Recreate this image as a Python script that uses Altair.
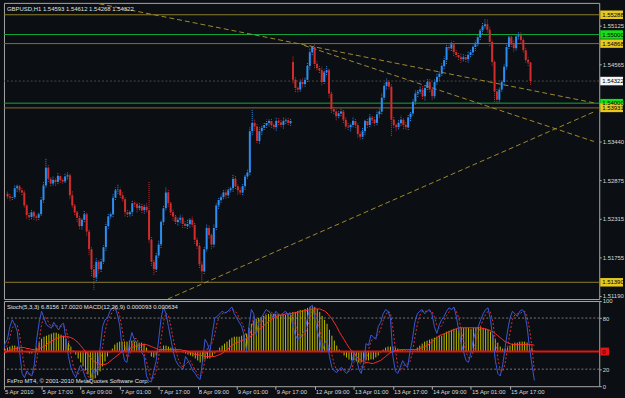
import altair as alt
import pandas as pd

# ---------------- data ----------------
title_main = "GBPUSD,H1  1.54593 1.54612 1.54268 1.54322"
title_sub = "Stoch(5,3,3) 6.8156 17.0020  MACD(12,26,9) 0.000093 0.000634"
copyright_txt = "FxPro MT4, \u00a9 2001-2010 MetaQuotes Software Corp."

first_open = 1.5268
gap_bar = 120          # first bar after the weekend
gap_open = 1.5460

closes = [
    1.5264, 1.5262, 1.5263, 1.5276, 1.5279, 1.5273, 1.5270, 1.5251, 1.5237, 1.5234,
    1.5241, 1.5235, 1.5233, 1.5238, 1.5259, 1.5280, 1.5306, 1.5290, 1.5283, 1.5288,
    1.5285, 1.5294, 1.5288, 1.5286, 1.5293, 1.5295, 1.5266, 1.5251, 1.5241, 1.5233,
    1.5221, 1.5230, 1.5238, 1.5213, 1.5187, 1.5158, 1.5146, 1.5169, 1.5158, 1.5169,
    1.5190, 1.5221, 1.5235, 1.5238, 1.5262, 1.5273, 1.5274, 1.5266, 1.5260, 1.5241,
    1.5238, 1.5241, 1.5254, 1.5253, 1.5247, 1.5250, 1.5244, 1.5249, 1.5244, 1.5201,
    1.5169, 1.5158, 1.5178, 1.5194, 1.5227, 1.5247, 1.5270, 1.5254, 1.5241, 1.5235,
    1.5227, 1.5230, 1.5233, 1.5224, 1.5221, 1.5224, 1.5230, 1.5223, 1.5201, 1.5192,
    1.5165, 1.5155, 1.5187, 1.5218, 1.5208, 1.5194, 1.5218, 1.5251, 1.5259, 1.5263,
    1.5270, 1.5266, 1.5273, 1.5276, 1.5290, 1.5279, 1.5273, 1.5270, 1.5279, 1.5293,
    1.5299, 1.5359, 1.5371, 1.5366, 1.5345, 1.5359, 1.5364, 1.5368, 1.5371, 1.5374,
    1.5368, 1.5365, 1.5374, 1.5372, 1.5368, 1.5374, 1.5375, 1.5371, 1.5374, 1.5434,
    1.5422, 1.5420, 1.5431, 1.5428, 1.5434, 1.5454, 1.5474, 1.5482, 1.5457, 1.5451,
    1.5448, 1.5431, 1.5445, 1.5448, 1.5414, 1.5391, 1.5388, 1.5381, 1.5385, 1.5388,
    1.5376, 1.5366, 1.5365, 1.5368, 1.5374, 1.5368, 1.5355, 1.5351, 1.5359, 1.5374,
    1.5368, 1.5379, 1.5376, 1.5371, 1.5384, 1.5388, 1.5408, 1.5425, 1.5431, 1.5424,
    1.5376, 1.5368, 1.5365, 1.5371, 1.5376, 1.5368, 1.5365, 1.5379, 1.5385, 1.5402,
    1.5414, 1.5417, 1.5420, 1.5410, 1.5422, 1.5431, 1.5420, 1.5410, 1.5431, 1.5438,
    1.5443, 1.5454, 1.5463, 1.5482, 1.5480, 1.5486, 1.5474, 1.5470, 1.5467, 1.5464,
    1.5467, 1.5464, 1.5470, 1.5474, 1.5482, 1.5486, 1.5496, 1.5506, 1.5512, 1.5515,
    1.5507, 1.5489, 1.5460, 1.5417, 1.5405, 1.5420, 1.5431, 1.5453, 1.5482, 1.5496,
    1.5486, 1.5480, 1.5497, 1.5499, 1.5492, 1.5477, 1.5463, 1.54593, 1.54322,
]

upper_wick_pips = [
    3, 4, 2, 5, 3, 2, 4, 3, 2, 3,
    4, 2, 3, 3, 4, 5, 13, 4, 3, 5,
    3, 4, 2, 3, 5, 4, 3, 6, 3, 2,
    4, 3, 5, 3, 2, 4, 6, 5, 3, 4,
    3, 5, 4, 3, 6, 4, 8, 3, 5, 3,
    4, 3, 5, 4, 3, 5, 4, 3, 6, 41,
    4, 3, 5, 6, 3, 4, 7, 5, 3, 4,
    3, 4, 5, 3, 4, 6, 3, 5, 4, 3,
    4, 5, 3, 6, 4, 3, 5, 4, 3, 4,
    3, 5, 4, 3, 6, 4, 3, 5, 4, 3,
    4, 6, 19, 5, 4, 6, 3, 4, 5, 3,
    4, 3, 5, 4, 3, 5, 4, 3, 4, 8,
    5, 3, 4, 6, 3, 5, 6, 2, 5, 4,
    3, 5, 4, 6, 3, 4, 5, 3, 4, 5,
    3, 4, 5, 3, 6, 4, 3, 4, 5, 3,
    4, 5, 3, 4, 5, 4, 6, 4, 5, 3,
    4, 5, 3, 4, 6, 3, 4, 5, 3, 4,
    5, 3, 4, 6, 3, 4, 5, 3, 4, 5,
    3, 4, 5, 4, 3, 5, 6, 4, 3, 5,
    4, 3, 5, 4, 3, 5, 4, 3, 5, 8,
    8, 5, 4, 3, 5, 4, 3, 5, 4, 3,
    4, 6, 3, 5, 4, 3, 5, 4, 0.2,
]
lower_wick_pips = [
    3, 4, 3, 2, 5, 3, 4, 3, 5, 4,
    3, 5, 4, 3, 2, 4, 3, 5, 4, 3,
    5, 3, 4, 3, 2, 4, 5, 3, 4, 6,
    4, 5, 3, 6, 8, 10, 18, 5, 6, 4,
    3, 5, 4, 3, 4, 3, 5, 4, 3, 6,
    4, 3, 5, 4, 6, 3, 4, 5, 3, 4,
    6, 8, 4, 3, 5, 4, 3, 5, 4, 6,
    3, 5, 4, 6, 3, 4, 5, 3, 6, 4,
    5, 16, 4, 3, 5, 6, 4, 3, 5, 4,
    3, 5, 4, 3, 5, 4, 6, 3, 4, 5,
    3, 4, 5, 6, 3, 4, 5, 3, 4, 5,
    4, 3, 5, 4, 3, 5, 4, 3, 4, 5,
    6, 4, 3, 5, 4, 3, 5, 4, 6, 3,
    4, 5, 3, 4, 6, 5, 4, 6, 3, 4,
    5, 3, 4, 6, 3, 4, 5, 4, 3, 5,
    4, 3, 5, 4, 3, 5, 4, 3, 5, 4,
    24, 4, 5, 3, 4, 6, 3, 4, 5, 3,
    4, 5, 3, 4, 6, 3, 4, 5, 3, 4,
    5, 3, 4, 6, 3, 4, 5, 3, 4, 5,
    3, 4, 5, 3, 4, 6, 3, 4, 5, 3,
    4, 6, 5, 15, 6, 4, 3, 5, 4, 3,
    4, 5, 3, 4, 5, 3, 4, 5, 5.4,
]

stoch_main = [
    40, 50, 55, 70, 78, 72, 65, 40, 15, 10,
    18, 14, 12, 25, 55, 75, 88, 80, 72, 70,
    68, 75, 70, 66, 72, 74, 55, 35, 22, 15,
    10, 18, 25, 18, 10, 6, 5, 20, 15, 22,
    45, 70, 78, 80, 88, 92, 93, 85, 72, 45,
    30, 28, 50, 63, 55, 50, 42, 40, 35, 12,
    6, 5, 18, 30, 55, 80, 93, 85, 70, 55,
    40, 30, 25, 22, 20, 35, 30, 25, 18, 15,
    10, 8, 30, 55, 50, 40, 62, 80, 82, 85,
    88, 86, 87, 90, 93, 85, 80, 75, 70, 60,
    40, 70, 90, 85, 60, 75, 80, 85, 90, 88,
    85, 80, 88, 85, 82, 86, 88, 84, 86, 70,
    60, 55, 58, 62, 66, 80, 93, 95, 80, 65,
    55, 40, 50, 55, 35, 22, 18, 16, 20, 22,
    18, 15, 18, 25, 40, 35, 20, 15, 28, 50,
    48, 60, 58, 55, 70, 75, 85, 90, 88, 80,
    35, 18, 15, 22, 30, 25, 22, 40, 55, 75,
    85, 88, 90, 85, 88, 90, 85, 70, 62, 72,
    78, 82, 88, 92, 90, 93, 82, 65, 50, 40,
    30, 28, 40, 55, 65, 70, 78, 85, 90, 92,
    78, 55, 30, 15, 12, 25, 45, 65, 80, 88,
    85, 82, 88, 90, 86, 70, 45, 25, 6.8156,
]
stoch_signal = [
    45, 45, 48, 58, 68, 73, 72, 60, 40, 22,
    14, 14, 15, 17, 30, 52, 73, 81, 80, 74,
    70, 71, 71, 70, 70, 71, 67, 55, 37, 24,
    16, 14, 18, 20, 18, 12, 7, 10, 13, 19,
    27, 46, 64, 76, 82, 87, 91, 90, 83, 67,
    49, 34, 36, 47, 56, 56, 49, 44, 39, 29,
    18, 8, 10, 18, 34, 55, 76, 86, 83, 70,
    55, 42, 32, 26, 22, 26, 28, 30, 24, 19,
    14, 11, 16, 31, 45, 48, 51, 61, 75, 82,
    85, 86, 87, 88, 90, 89, 86, 80, 75, 68,
    57, 57, 67, 82, 78, 73, 72, 80, 85, 88,
    88, 84, 84, 84, 85, 84, 85, 86, 86, 80,
    72, 62, 58, 58, 62, 69, 80, 89, 89, 80,
    67, 53, 48, 48, 47, 37, 25, 19, 18, 19,
    20, 18, 17, 19, 28, 33, 32, 23, 21, 31,
    42, 53, 55, 58, 61, 67, 77, 83, 88, 86,
    68, 44, 23, 18, 22, 26, 26, 29, 39, 57,
    72, 83, 88, 88, 88, 88, 88, 82, 72, 68,
    71, 77, 83, 87, 90, 92, 88, 80, 66, 52,
    40, 33, 33, 41, 53, 63, 71, 78, 84, 88,
    87, 75, 54, 33, 19, 17, 27, 45, 63, 78,
    84, 85, 85, 87, 88, 82, 67, 47, 17.002,
]
# MACD values in units of 0.0001
macd_main_e4 = [
    2, 3, 4, 5, 6, 6, 5, 4, 2, 0,
    -1, -2, -2, 0, 4, 9, 13, 15, 16, 17,
    18, 19, 19, 18, 17, 16, 13, 9, 5, 1,
    -3, -7, -11, -15, -19, -23, -27, -28, -27, -24,
    -20, -15, -10, -5, -1, 3, 7, 9, 10, 10,
    10, 10, 11, 11, 10, 10, 9, 9, 8, 4,
    -1, -5, -6, -4, 0, 3, 6, 6, 5, 4,
    3, 2, 1, 0, -1, -2, -3, -4, -5, -7,
    -9, -11, -10, -8, -7, -7, -5, -2, 1, 4,
    6, 8, 10, 12, 14, 15, 15, 15, 16, 17,
    18, 24, 28, 31, 33, 34, 35, 36, 37, 38,
    38, 38, 38, 38, 37, 37, 37, 38, 38, 40,
    40, 41, 42, 42, 43, 44, 45, 46, 45, 43,
    40, 36, 32, 28, 22, 16, 11, 6, 2, -1,
    -4, -6, -8, -9, -9, -10, -11, -11, -10, -9,
    -9, -8, -8, -6, -4, -1, 2, 4, 5, 5,
    5, 4, 3, 2, 2, 1, 1, 1, 0, 1,
    4, 6, 8, 10, 11, 12, 13, 14, 15, 16,
    16, 18, 20, 21, 22, 23, 23, 24, 24, 24,
    24, 24, 23, 24, 24, 25, 25, 24, 23, 22,
    20, 17, 13, 9, 5, 3, 3, 4, 6, 8,
    9, 9, 10, 10, 10, 9, 7, 4, 0.93,
]
macd_signal_e4 = [
    -1, -1, 0, 1, 2, 3, 3, 4, 4, 4,
    3, 3, 2, 2, 2, 3, 4, 5, 7, 9,
    10, 12, 13, 14, 15, 15, 15, 15, 14, 13,
    11, 9, 6, 3, 0, -3, -6, -9, -11, -12,
    -13, -13, -13, -12, -10, -8, -6, -4, -2, 0,
    1, 2, 3, 4, 5, 6, 6, 7, 7, 7,
    6, 5, 4, 3, 2, 2, 2, 2, 2, 2,
    2, 2, 2, 2, 1, 1, 0, -1, -2, -3,
    -3, -4, -4, -5, -5, -5, -5, -5, -4, -3,
    -2, 0, 2, 4, 6, 8, 9, 10, 11, 12,
    13, 14, 16, 18, 20, 22, 24, 26, 28, 30,
    32, 34, 35, 36, 37, 37, 38, 38, 38, 39,
    39, 40, 40, 41, 41, 42, 42, 43, 43, 43,
    43, 42, 41, 39, 36, 33, 29, 25, 20, 16,
    12, 8, 4, 1, -2, -5, -7, -9, -10, -11,
    -11, -12, -12, -11, -10, -9, -7, -5, -3, -1,
    0, 1, 1, 2, 2, 2, 2, 2, 2, 2,
    2, 3, 4, 5, 6, 8, 10, 12, 14, 16,
    17, 18, 19, 20, 21, 22, 23, 24, 24, 24,
    24, 24, 24, 24, 24, 24, 24, 23, 23, 22,
    21, 20, 18, 16, 14, 12, 10, 9, 8, 7,
    7, 7, 7, 7, 7, 7, 7, 7, 6.34,
]

# horizontal levels
level_prices = [1.55288, 1.55000, 1.54868, 1.54000, 1.53931, 1.51390]
level_colors = ["#8f7e2e", "#12a83c", "#8a6c30", "#12a83c", "#8a6c30", "#8f7e2e"]
# price boxes on the right scale
box_prices = [1.55288, 1.55000, 1.54868, 1.54322, 1.54000, 1.53931, 1.51390]
box_texts = ["1.55288", "1.55000", "1.54868", "1.54322", "1.54000", "1.53931", "1.51390"]
box_colors = ["#e8c820", "#16e016", "#e8c820", "#f4f4f4", "#16e016", "#e8c820", "#e8c820"]
current_price = 1.54322

# trend lines: (bar index, price) end points
trend_names = ["A", "A", "B", "B", "C", "C"]
trend_bars = [39.3, 245.5, 124.6, 245.5, 67.8, 245.5]
trend_prices = [1.55447, 1.54004, 1.54841, 1.53441, 1.51146, 1.53874]

# right price scale labels
price_ticks = [1.55405, 1.55125, 1.54845, 1.54565, 1.54285, 1.54005, 1.53720, 1.53440,
               1.53160, 1.52875, 1.52595, 1.52315, 1.52035, 1.51755, 1.51475, 1.51190]

# time axis
time_ticks = [1.58, 17, 33, 49, 65, 81, 97, 113, 129, 145, 161, 177, 193, 209]
time_labels = ["5 Apr 2010", "5 Apr 17:00", "6 Apr 09:00", "7 Apr 01:00", "7 Apr 17:00",
               "8 Apr 09:00", "9 Apr 01:00", "9 Apr 17:00", "12 Apr 09:00", "13 Apr 01:00",
               "13 Apr 17:00", "14 Apr 09:00", "15 Apr 01:00", "15 Apr 17:00"]

# ---------------- build tables ----------------
PIP = 0.0001
n = len(closes)
bars = list(range(1, n + 1))
opens = [first_open] + closes[:-1]
opens[gap_bar - 1] = gap_open
UP, DOWN = "#2b8ef2", "#d42c2c"
rows = []
for k in range(n):
    o, c = opens[k], closes[k]
    rows.append({
        "i": bars[k], "open": o, "close": c,
        "high": max(o, c) + upper_wick_pips[k] * PIP,
        "low": min(o, c) - lower_wick_pips[k] * PIP,
        "col": UP if c >= o else DOWN,
        "k_main": stoch_main[k], "k_sig": stoch_signal[k],
        "macd": macd_main_e4[k] * PIP, "macd_sig": macd_signal_e4[k] * PIP,
        "zero": 0.0,
    })
df = pd.DataFrame(rows)

BG = "#0b0f13"
FONT = "Liberation Sans"
W, H_MAIN, H_SUB = 601, 299, 86
XS = alt.Scale(domain=[1.58, 245.58], nice=False, zero=False)
YS = alt.Scale(domain=[1.51146, 1.55461], nice=False, zero=False)
SS = alt.Scale(domain=[0, 100], nice=False, zero=False)
MS = alt.Scale(domain=[-0.0035, 0.0051], nice=False, zero=False)

# ---------------- main panel ----------------
levels = pd.DataFrame({"price": level_prices, "color": level_colors})
level_layer = alt.Chart(levels).mark_rule(strokeWidth=1).encode(
    y=alt.Y("price:Q", scale=YS, axis=alt.Axis(
        orient="right", values=price_ticks, format=".5f", labelFont=FONT, labelFontSize=6,
        labelColor="#d8d8d8", tickColor="#b0b0b0", tickSize=2, labelPadding=1,
        domain=False, grid=False, title=None, labelOverlap=False)),
    color=alt.Color("color:N", scale=None),
)
cur_layer = alt.Chart(pd.DataFrame({"price": [current_price]})).mark_rule(
    strokeWidth=1, color="#4a4a4a", strokeDash=[2, 2]).encode(y=alt.Y("price:Q", scale=YS))

trend = pd.DataFrame({"name": trend_names, "i": trend_bars, "price": trend_prices})
trend_layer = alt.Chart(trend).mark_line(
    strokeWidth=1, strokeDash=[5, 3], color="#a08a30", clip=True).encode(
    x=alt.X("i:Q", scale=XS, axis=None), y=alt.Y("price:Q", scale=YS), detail="name:N")

wick_layer = alt.Chart(df).mark_rule(strokeWidth=1, strokeDash=[1, 1], clip=True).encode(
    x=alt.X("i:Q", scale=XS, axis=None), y=alt.Y("low:Q", scale=YS), y2="high:Q",
    color=alt.Color("col:N", scale=None))
body_layer = alt.Chart(df).mark_bar(size=2, clip=True).encode(
    x=alt.X("i:Q", scale=XS, axis=None), y=alt.Y("open:Q", scale=YS), y2="close:Q",
    color=alt.Color("col:N", scale=None))

boxes = pd.DataFrame({"price": box_prices, "text": box_texts, "color": box_colors})
boxes["lo"] = boxes["price"] - 0.00062
boxes["hi"] = boxes["price"] + 0.00062
box_layer = alt.Chart(boxes).mark_rect().encode(
    x=alt.value(W + 1), x2=alt.value(W + 24), y=alt.Y("lo:Q", scale=YS), y2="hi:Q",
    color=alt.Color("color:N", scale=None))
box_text = alt.Chart(boxes).mark_text(align="left", baseline="middle", font=FONT,
                                       fontSize=6, color="#000000", dx=0).encode(
    x=alt.value(W + 3), y=alt.Y("price:Q", scale=YS), text="text:N")

title_layer = alt.Chart(pd.DataFrame({"t": [title_main]})).mark_text(
    align="left", baseline="middle", font=FONT, fontSize=6, color="#e0e0e0").encode(
    x=alt.value(3), y=alt.value(6), text="t:N")

main = alt.layer(level_layer, cur_layer, trend_layer, wick_layer, body_layer,
                 box_layer, box_text, title_layer).properties(width=W, height=H_MAIN)

# ---------------- sub panel ----------------
stoch_lvls = alt.Chart(pd.DataFrame({"v": [20, 80]})).mark_rule(
    strokeWidth=1, color="#7a7a7a", strokeDash=[2, 2]).encode(
    y=alt.Y("v:Q", scale=SS, axis=alt.Axis(
        orient="right", values=[0, 20, 80, 100], labelFont=FONT, labelFontSize=6,
        labelColor="#d8d8d8", tickColor="#b0b0b0", tickSize=2, labelPadding=1,
        domain=False, grid=False, title=None, labelOverlap=False)))
hist = alt.Chart(df).mark_rule(strokeWidth=1, color="#bcbc00", clip=True).encode(
    x=alt.X("i:Q", scale=XS, axis=alt.Axis(
        values=time_ticks, labels=False, tickSize=3, tickColor="#b0b0b0",
        domain=False, grid=False, title=None)),
    y=alt.Y("zero:Q", scale=MS, axis=None), y2="macd:Q")
zero_line = alt.Chart(pd.DataFrame({"v": [0.0]})).mark_rule(
    strokeWidth=2, color="#e01414").encode(y=alt.Y("v:Q", scale=MS, axis=None))
macd_sig = alt.Chart(df).mark_line(strokeWidth=1, color="#ff2a2a", clip=True).encode(
    x=alt.X("i:Q", scale=XS), y=alt.Y("macd_sig:Q", scale=MS, axis=None))
k_line = alt.Chart(df).mark_line(strokeWidth=1, color="#3b58d6", clip=True).encode(
    x=alt.X("i:Q", scale=XS), y=alt.Y("k_main:Q", scale=SS, axis=None))
d_line = alt.Chart(df).mark_line(strokeWidth=1, color="#e03030", strokeDash=[2, 2],
                                 clip=True).encode(
    x=alt.X("i:Q", scale=XS), y=alt.Y("k_sig:Q", scale=SS, axis=None))

zero_box = alt.Chart(pd.DataFrame({"lo": [-0.0004], "hi": [0.0004], "t": ["0"]}))
zero_rect = zero_box.mark_rect(color="#e01414").encode(
    x=alt.value(W + 1), x2=alt.value(W + 10), y=alt.Y("lo:Q", scale=MS, axis=None), y2="hi:Q")
zero_txt = zero_box.mark_text(align="left", baseline="middle", font=FONT, fontSize=6,
                              color="#000000").encode(
    x=alt.value(W + 3), y=alt.value(51), text="t:N")

sub_title = alt.Chart(pd.DataFrame({"t": [title_sub]})).mark_text(
    align="left", baseline="middle", font=FONT, fontSize=6, color="#e0e0e0").encode(
    x=alt.value(3), y=alt.value(6), text="t:N")
copy_txt = alt.Chart(pd.DataFrame({"t": [copyright_txt]})).mark_text(
    align="left", baseline="middle", font=FONT, fontSize=6, color="#e0e0e0").encode(
    x=alt.value(3), y=alt.value(H_SUB - 5), text="t:N")
tlabels = alt.Chart(pd.DataFrame({"i": time_ticks, "t": time_labels})).mark_text(
    align="left", baseline="middle", font=FONT, fontSize=6, color="#d8d8d8", dx=1).encode(
    x=alt.X("i:Q", scale=XS), y=alt.value(H_SUB + 6), text="t:N")

sub = alt.layer(stoch_lvls, hist, zero_line, macd_sig, d_line, k_line, zero_rect, zero_txt,
                sub_title, copy_txt, tlabels).resolve_scale(y="independent").properties(
    width=W, height=H_SUB)

chart = alt.VConcatChart(vconcat=[main, sub], spacing=2, bounds="flush").properties(
    padding={"left": 2, "top": 0, "right": 0, "bottom": 0}
).configure(background=BG).configure_view(stroke="#a8a8a8", strokeWidth=1, fill=BG)

chart.save("out.html", embed_options={"renderer": "svg", "actions": False})
